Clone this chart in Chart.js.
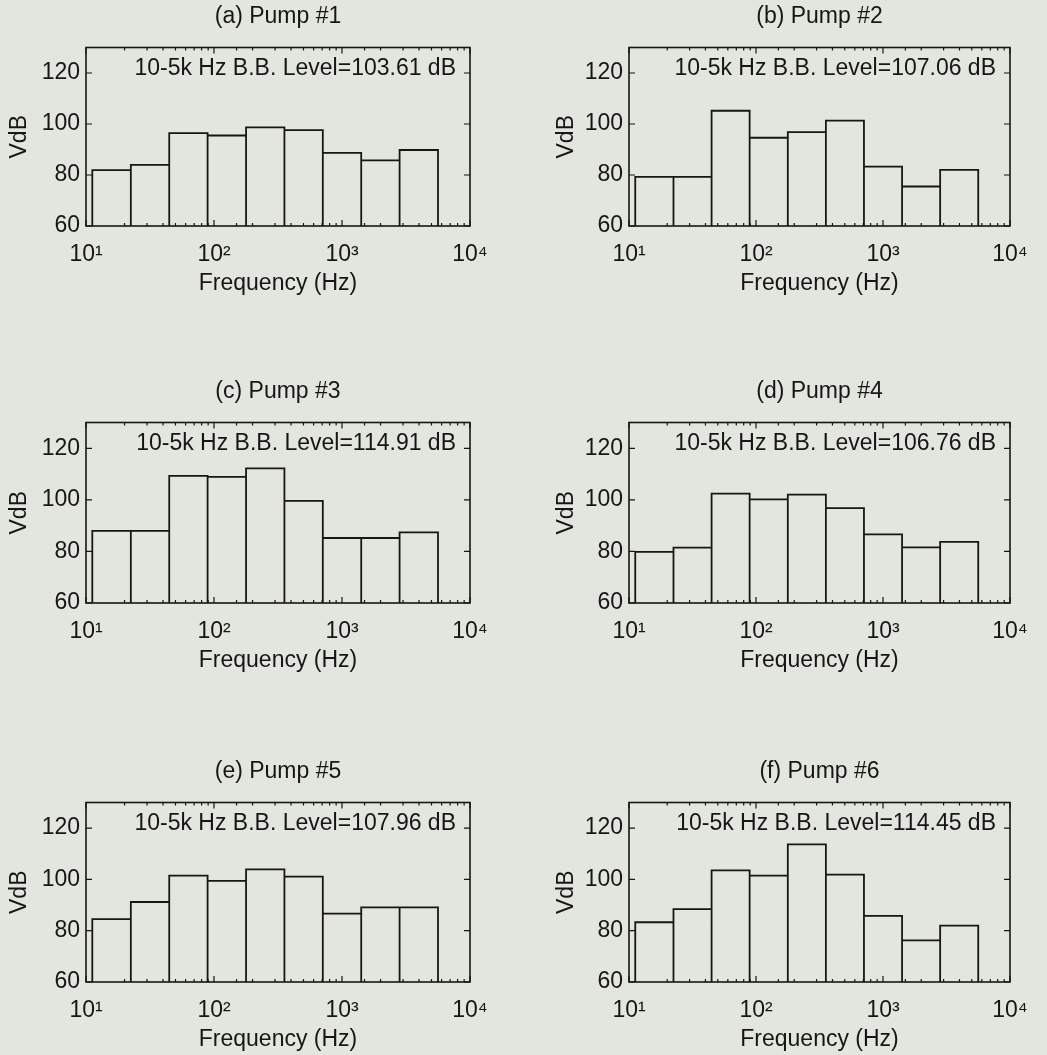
<!DOCTYPE html>
<html>
<head>
<meta charset="utf-8">
<script src="https://cdn.jsdelivr.net/npm/chart.js@4.4.1/dist/chart.umd.min.js"></script>
<style>
  html, body { margin: 0; padding: 0; background: #e3e5df; }
  #wrap { position: relative; width: 1047px; height: 1055px; overflow: hidden; }
  #wrap canvas { position: absolute; }
</style>
</head>
<body>
<div id="wrap"></div>
<script>
// ---------- DATA ----------
// octave band edges (Hz) for the 16 Hz ... 4 kHz bands
const bandEdges = [11.2, 22.4, 44.7, 89.1, 178, 355, 708, 1413, 2818, 5623];

const pump1 = [81.9, 84.0, 96.4, 95.5, 98.7, 97.6, 88.7, 85.7, 89.8];
const pump2 = [79.3, 79.3, 105.2, 94.6, 96.8, 101.3, 83.3, 75.5, 82.0];
const pump3 = [88.0, 88.0, 109.3, 108.9, 112.2, 99.6, 85.2, 85.2, 87.4];
const pump4 = [79.8, 81.5, 102.4, 100.2, 102.0, 96.8, 86.6, 81.6, 83.7];
const pump5 = [84.5, 91.2, 101.5, 99.4, 103.9, 101.1, 86.7, 89.1, 89.1];
const pump6 = [83.3, 88.4, 103.5, 101.5, 113.7, 101.9, 85.8, 76.2, 82.0];

const panelTitles = ["(a) Pump #1", "(b) Pump #2", "(c) Pump #3",
                     "(d) Pump #4", "(e) Pump #5", "(f) Pump #6"];
const bbLevels = ["103.61", "107.06", "114.91", "106.76", "107.96", "114.45"];

const xTickLabels = { 10: "10\u00B9", 100: "10\u00B2", 1000: "10\u00B3", 10000: "10\u2074" };
const yTicks = [60, 80, 100, 120];

// ---------- STYLE / LAYOUT ----------
const INK = "#161616";
const FONT = { family: "'Liberation Sans', Arial, sans-serif", size: 23 };
const FONT_CSS = "23px 'Liberation Sans', Arial, sans-serif";

const columns = [
  { left: 0,   width: 520, padLeft: 2,  yWidth: 84, padRight: 50 },
  { left: 520, width: 527, padLeft: 29, yWidth: 80, padRight: 37 }
];
const rows = [
  { top: 0,   height: 300 },
  { top: 375, height: 302 },
  { top: 755, height: 301 }
];

// bar outline as a staircase: every band drops back to the 60 dB floor
function outline(levels) {
  const pts = [];
  levels.forEach((v, i) => {
    const lo = bandEdges[i], hi = bandEdges[i + 1];
    pts.push({ x: lo, y: 60 }, { x: lo, y: v }, { x: hi, y: v }, { x: hi, y: 60 });
  });
  return pts;
}

// box, inward ticks, panel title and broadband note
const framePlugin = {
  id: "frame",
  afterDatasetsDraw(chart, args, opts) {
    const { ctx, chartArea: a, scales: { x, y } } = chart;
    ctx.save();
    ctx.strokeStyle = INK;
    ctx.lineWidth = 1.6;
    ctx.strokeRect(a.left, a.top, a.width, a.height);

    ctx.lineWidth = 1.2;
    ctx.beginPath();
    x.ticks.forEach(t => {
      const px = x.getPixelForValue(t.value);
      const lg = Math.log10(t.value);
      const len = Math.abs(lg - Math.round(lg)) < 1e-6 ? 6 : 3;
      ctx.moveTo(px, a.bottom); ctx.lineTo(px, a.bottom - len);
      ctx.moveTo(px, a.top);    ctx.lineTo(px, a.top + len);
    });
    y.ticks.forEach(t => {
      const py = y.getPixelForValue(t.value);
      ctx.moveTo(a.left, py);  ctx.lineTo(a.left + 6, py);
      ctx.moveTo(a.right, py); ctx.lineTo(a.right - 6, py);
    });
    ctx.stroke();

    ctx.fillStyle = INK;
    ctx.font = FONT_CSS;
    ctx.textAlign = "center";
    ctx.textBaseline = "middle";
    ctx.fillText(opts.title, (a.left + a.right) / 2, 17);
    ctx.textAlign = "right";
    ctx.textBaseline = "alphabetic";
    ctx.fillText("10-5k Hz B.B. Level=" + opts.level + " dB", a.right - 14, a.top + 27);
    ctx.restore();
  }
};

const allPumps = [pump1, pump2, pump3, pump4, pump5, pump6];
const wrap = document.getElementById("wrap");

allPumps.forEach((levels, i) => {
  const col = columns[i % 2];
  const row = rows[Math.floor(i / 2)];

  const canvas = document.createElement("canvas");
  canvas.width = col.width;
  canvas.height = row.height;
  canvas.style.left = col.left + "px";
  canvas.style.top = row.top + "px";
  wrap.appendChild(canvas);

  new Chart(canvas.getContext("2d"), {
    type: "scatter",
    data: {
      datasets: [{
        data: outline(levels),
        showLine: true,
        borderColor: INK,
        borderWidth: 1.8,
        pointRadius: 0,
        fill: false,
        tension: 0
      }]
    },
    options: {
      animation: false,
      responsive: false,
      events: [],
      layout: { padding: { left: col.padLeft, right: col.padRight, top: 47.5, bottom: 0 } },
      plugins: {
        legend: { display: false },
        tooltip: { enabled: false },
        frame: { title: panelTitles[i], level: bbLevels[i] }
      },
      scales: {
        x: {
          type: "logarithmic",
          min: 10,
          max: 10000,
          afterFit: s => { s.height = 74; },
          grid: { display: false, drawTicks: false },
          border: { display: false },
          ticks: {
            autoSkip: false,
            maxRotation: 0,
            padding: 15,
            color: INK,
            font: FONT,
            callback: v => xTickLabels[Math.round(v)] || ""
          },
          title: { display: true, text: "Frequency (Hz)", color: INK, font: FONT, padding: { bottom: 3 } }
        },
        y: {
          min: 60,
          max: 130,
          afterFit: s => { s.width = col.yWidth; },
          afterBuildTicks: s => { s.ticks = yTicks.map(v => ({ value: v })); },
          grid: { display: false, drawTicks: false },
          border: { display: false },
          ticks: { padding: 6, color: INK, font: FONT },
          title: { display: true, text: "VdB", color: INK, font: FONT, padding: { top: 4 } }
        }
      }
    },
    plugins: [framePlugin]
  });
});
</script>
</body>
</html>
